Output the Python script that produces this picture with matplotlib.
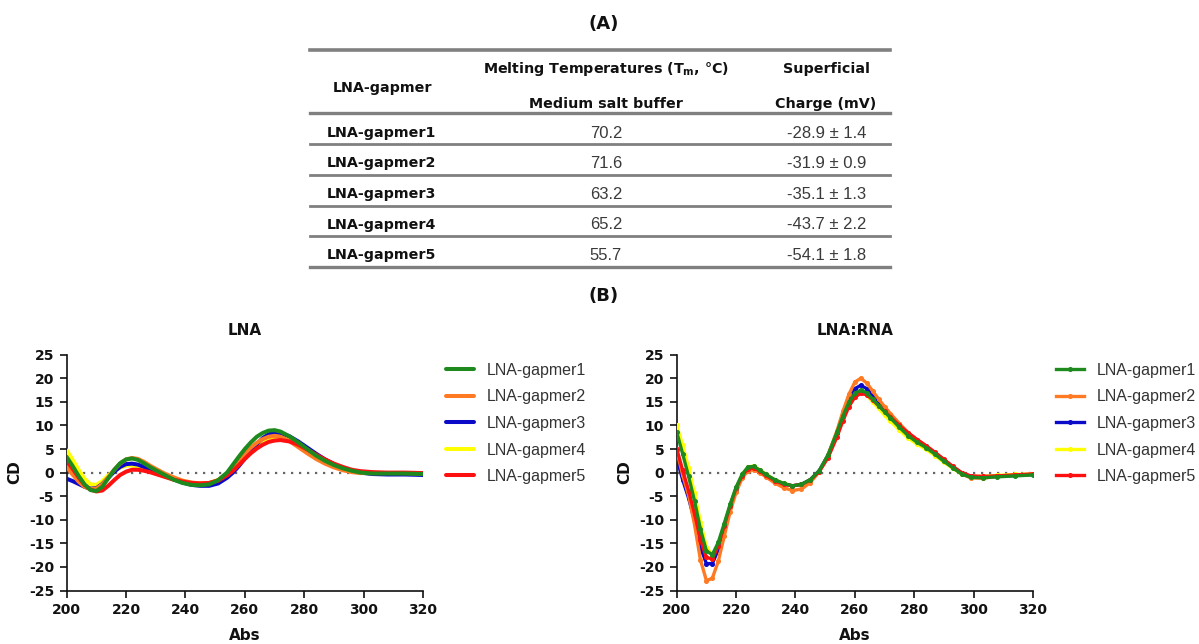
import matplotlib
matplotlib.use("Agg")
import matplotlib.pyplot as plt
from matplotlib.lines import Line2D

plt.rcParams['axes.unicode_minus'] = False

# ---------------- data ----------------
table_names = ["LNA-gapmer1", "LNA-gapmer2", "LNA-gapmer3", "LNA-gapmer4", "LNA-gapmer5"]
table_tm = ["70.2", "71.6", "63.2", "65.2", "55.7"]
table_charge = ["-28.9 ± 1.4", "-31.9 ± 0.9", "-35.1 ± 1.3", "-43.7 ± 2.2", "-54.1 ± 1.8"]

wavelength = [200, 202, 204, 206, 208, 210, 212, 214, 216, 218, 220, 222, 224, 226, 228, 230,
              233, 236, 239, 242, 245, 248, 251,
              254, 256, 258, 260, 262, 264, 266, 268, 270, 272,
              275, 278, 281, 284, 287, 290, 293, 296, 299,
              303, 308, 314, 320]

series_names = ["LNA-gapmer1", "LNA-gapmer2", "LNA-gapmer3", "LNA-gapmer4", "LNA-gapmer5"]
series_colors = ["#1e8a1e", "#ff7a22", "#0a0ac8", "#ffff00", "#ff1010"]

# LNA (single strand)
lna_g1 = [3.3, 1.4, -0.7, -2.5, -3.7, -3.9, -3.0, -1.2, 0.6, 2.0, 2.8, 3.0, 2.7, 2.0, 1.2, 0.5,
          -0.5, -1.5, -2.2, -2.6, -2.7, -2.5, -1.6,
          0.0, 1.7, 3.4, 5.0, 6.4, 7.6, 8.4, 8.9, 9.0, 8.7,
          7.7, 6.4, 5.0, 3.6, 2.5, 1.6, 0.9, 0.4, 0.0,
          -0.2, -0.2, -0.2, -0.3]
lna_g2 = [1.2, -0.4, -1.9, -3.0, -3.5, -3.4, -2.5, -1.0, 0.6, 1.9, 2.8, 3.1, 2.9, 2.3, 1.5, 0.8,
          -0.2, -1.0, -1.7, -2.1, -2.3, -2.2, -1.6,
          -0.3, 1.1, 2.6, 4.0, 5.3, 6.3, 7.1, 7.6, 7.8, 7.6,
          6.7, 5.4, 4.1, 2.9, 1.9, 1.1, 0.5, 0.1, -0.1,
          -0.1, -0.1, -0.1, -0.2]
lna_g3 = [-1.3, -1.8, -2.4, -3.0, -3.4, -3.3, -2.4, -1.1, 0.2, 1.2, 1.8, 1.9, 1.7, 1.2, 0.7, 0.2,
          -0.6, -1.4, -2.1, -2.6, -2.8, -2.8, -2.3,
          -1.1, 0.0, 1.4, 3.0, 4.6, 6.0, 7.3, 8.1, 8.5, 8.4,
          7.7, 6.6, 5.3, 4.0, 2.8, 1.8, 1.0, 0.4, 0.0,
          -0.3, -0.4, -0.4, -0.5]
lna_g4 = [4.7, 2.7, 0.6, -1.3, -2.5, -2.6, -1.8, -0.6, 0.4, 1.1, 1.5, 1.5, 1.3, 0.9, 0.4, -0.1,
          -0.8, -1.4, -1.9, -2.2, -2.3, -2.2, -1.6,
          -0.3, 0.9, 2.3, 3.7, 4.9, 6.0, 6.8, 7.3, 7.6, 7.6,
          7.0, 5.9, 4.6, 3.4, 2.3, 1.4, 0.7, 0.3, 0.0,
          -0.1, -0.1, -0.1, -0.2]
lna_g5 = [2.5, 0.8, -1.0, -2.6, -3.6, -4.0, -3.8, -2.8, -1.6, -0.5, 0.2, 0.6, 0.6, 0.4, 0.1, -0.3,
          -0.9, -1.5, -1.9, -2.2, -2.3, -2.2, -1.7,
          -0.6, 0.4, 1.6, 2.9, 4.1, 5.1, 5.9, 6.5, 6.8, 6.9,
          6.6, 5.9, 4.9, 3.8, 2.8, 1.9, 1.2, 0.6, 0.3,
          0.1, 0.0, 0.0, -0.1]

# LNA:RNA (duplex)
dup_g1 = [8.6, 4.0, -0.8, -6.0, -12.0, -16.6, -17.4, -14.8, -10.8, -6.7, -3.1, -0.4, 1.2, 1.3, 0.5, -0.4,
          -1.5, -2.3, -2.8, -2.5, -1.5, 0.4, 3.8,
          8.6, 12.0, 14.9, 16.8, 17.5, 16.9, 15.6, 14.2, 12.9, 11.6,
          9.6, 7.8, 6.4, 5.3, 3.9, 2.4, 1.0, -0.3, -1.0,
          -1.1, -0.9, -0.7, -0.5]
dup_g2 = [4.7, -0.5, -4.8, -11.0, -18.5, -22.9, -22.4, -18.8, -13.5, -8.3, -4.2, -1.2, 0.4, 0.6, 0.0, -0.9,
          -2.2, -3.2, -3.8, -3.5, -2.1, 0.2, 3.8,
          8.9, 13.0, 16.6, 19.2, 20.0, 19.0, 17.3, 15.6, 14.0, 12.5,
          10.4, 8.4, 6.9, 5.6, 4.1, 2.6, 1.1, -0.3, -1.1,
          -1.2, -0.8, -0.5, -0.3]
dup_g3 = [3.0, -1.5, -5.4, -10.2, -15.8, -19.3, -19.3, -16.3, -11.9, -7.4, -3.6, -0.9, 0.9, 1.1, 0.4, -0.5,
          -1.6, -2.4, -2.8, -2.5, -1.5, 0.4, 3.7,
          8.4, 12.2, 15.6, 17.8, 18.5, 17.8, 16.4, 14.9, 13.5, 12.2,
          10.2, 8.4, 6.9, 5.6, 4.2, 2.7, 1.2, -0.1, -0.8,
          -0.9, -0.8, -0.6, -0.4]
dup_g4 = [10.0, 5.8, 1.0, -4.4, -10.5, -15.8, -17.5, -15.5, -11.4, -7.2, -3.4, -0.5, 1.2, 1.4, 0.6, -0.3,
          -1.5, -2.3, -2.8, -2.5, -1.5, 0.3, 3.6,
          8.3, 11.7, 14.7, 16.5, 17.1, 16.4, 15.0, 13.6, 12.2, 10.9,
          9.0, 7.3, 6.0, 4.9, 3.6, 2.2, 0.9, -0.3, -0.8,
          -0.8, -0.6, -0.4, -0.3]
dup_g5 = [5.1, 0.5, -3.8, -8.7, -14.2, -18.0, -18.3, -15.5, -11.3, -7.0, -3.3, -0.7, 0.8, 1.0, 0.3, -0.6,
          -1.7, -2.5, -2.8, -2.5, -1.6, 0.2, 3.2,
          7.6, 11.0, 14.0, 16.0, 16.8, 16.5, 15.4, 14.2, 13.0, 11.8,
          10.0, 8.4, 7.0, 5.7, 4.3, 2.8, 1.3, 0.0, -0.7,
          -0.8, -0.7, -0.5, -0.3]

lna_series = [lna_g1, lna_g2, lna_g3, lna_g4, lna_g5]
dup_series = [dup_g1, dup_g2, dup_g3, dup_g4, dup_g5]

x_ticks = [200, 220, 240, 260, 280, 300, 320]
y_ticks = [-25, -20, -15, -10, -5, 0, 5, 10, 15, 20, 25]

# ---------------- layout helpers ----------------
W, H = 1199, 644
fig = plt.figure(figsize=(W / 100, H / 100), dpi=100)


def fx(px):
    return px / W


def fy(py):
    return 1 - py / H


BOLD = dict(family="DejaVu Sans", fontweight="bold", color="#111111")
LIGHT = dict(family="Liberation Sans", color="#3a3a3a")

# ---------------- table (A) ----------------
fig.text(fx(604), fy(24), "(A)", ha="center", va="center", fontsize=13, **BOLD)

line_y = [50, 113, 144, 175, 205.5, 236, 266.5]
line_w = [2.6, 2.4, 2.0, 2.0, 2.0, 2.0, 2.4]
for yy, lw in zip(line_y, line_w):
    fig.add_artist(Line2D([fx(310), fx(890)], [fy(yy), fy(yy)], color="#808080", lw=lw,
                          transform=fig.transFigure))

HS = 10.3
fig.text(fx(383), fy(88), "LNA-gapmer", ha="center", va="center", fontsize=HS, **BOLD)
fig.text(fx(606), fy(69), r"Melting Temperatures (T$_{\mathregular{m}}$, °C)", ha="center", va="center",
         fontsize=HS, **BOLD)
fig.text(fx(606), fy(104), "Medium salt buffer", ha="center", va="center", fontsize=HS, **BOLD)
fig.text(fx(826), fy(69), "Superficial", ha="center", va="center", fontsize=HS, **BOLD)
fig.text(fx(826), fy(104), "Charge (mV)", ha="center", va="center", fontsize=HS, **BOLD)

row_y = [133, 163.5, 194, 224.5, 255]
for yy, name, tm, ch in zip(row_y, table_names, table_tm, table_charge):
    fig.text(fx(327), fy(yy), name, ha="left", va="center", fontsize=HS, **BOLD)
    fig.text(fx(606), fy(yy), tm, ha="center", va="center", fontsize=12, **LIGHT)
    fig.text(fx(827), fy(yy), ch, ha="center", va="center", fontsize=12, **LIGHT)

fig.text(fx(604), fy(296), "(B)", ha="center", va="center", fontsize=13, **BOLD)

# ---------------- CD plots (B) ----------------
ax_w = (423 - 66.7) / W
ax_h = (590.5 - 354.7) / H
ax_b = fy(590.5)
ax1 = fig.add_axes([fx(66.7), ax_b, ax_w, ax_h])
ax2 = fig.add_axes([fx(676.7), ax_b, ax_w, ax_h])


def style_axes(ax, title):
    ax.set_xlim(200, 320)
    ax.set_ylim(-25, 25)
    ax.set_xticks(x_ticks)
    ax.set_yticks(y_ticks)
    for s in ("top", "right"):
        ax.spines[s].set_visible(False)
    for s in ("left", "bottom"):
        ax.spines[s].set_linewidth(1.2)
        ax.spines[s].set_color("#111111")
    ax.tick_params(direction="out", length=5, width=1.2, colors="#111111", pad=4)
    for lab in ax.get_xticklabels() + ax.get_yticklabels():
        lab.set_fontfamily("DejaVu Sans")
        lab.set_fontweight("bold")
        lab.set_fontsize(10)
    ax.set_title(title, fontsize=11, pad=14, **BOLD)
    ax.set_xlabel("Abs", fontsize=11, labelpad=8, **BOLD)
    ax.set_ylabel("CD", fontsize=11, labelpad=5, **BOLD)
    ax.axhline(0, color="#666666", lw=1.6, ls=(0, (1, 2.6)), zorder=1)


style_axes(ax1, "LNA")
style_axes(ax2, "LNA:RNA")

zorders = [7, 5, 4, 3, 6]
for vals, name, col, z in zip(lna_series, series_names, series_colors, zorders):
    ax1.plot(wavelength, vals, color=col, lw=2.9, label=name, zorder=z, solid_capstyle="round")
for vals, name, col, z in zip(dup_series, series_names, series_colors, zorders):
    ax2.plot(wavelength, vals, color=col, lw=2.4, marker="o", markersize=2.6, label=name, zorder=z)

leg_kw = dict(loc="upper left", frameon=False, borderpad=0, borderaxespad=0,
              handlelength=1.75, handletextpad=0.8, labelspacing=0.72,
              prop={"family": "Liberation Sans", "size": 11.5},
              bbox_transform=fig.transFigure)
l1 = ax1.legend(bbox_to_anchor=(fx(446), fy(363)), **leg_kw)
l2 = ax2.legend(bbox_to_anchor=(fx(1056), fy(363)), **leg_kw)
for lg in (l1, l2):
    for t in lg.get_texts():
        t.set_color("#333333")

fig.savefig("out.png", dpi=100)
